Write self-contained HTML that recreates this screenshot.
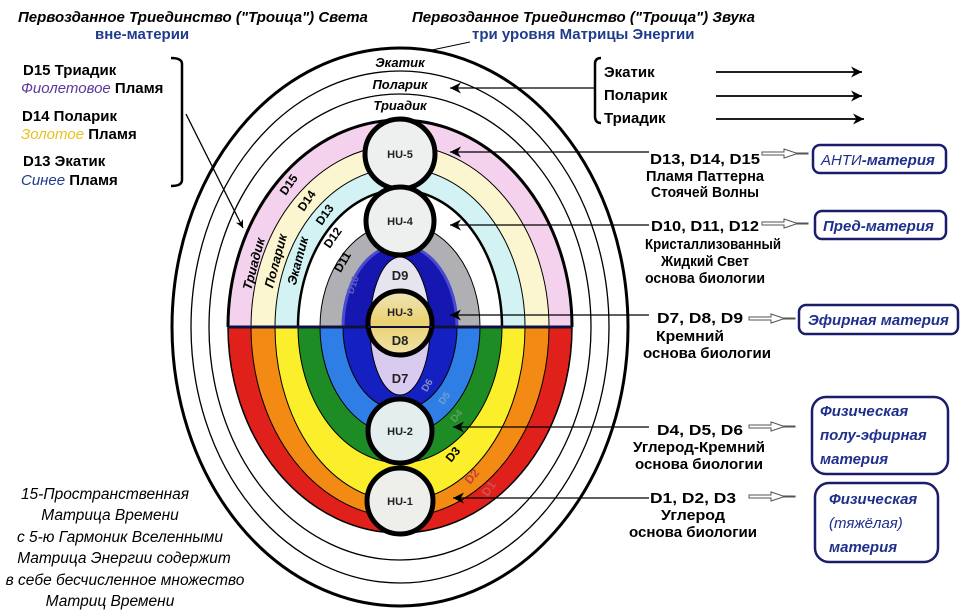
<!DOCTYPE html>
<html><head><meta charset="utf-8"><style>
html,body{margin:0;padding:0;background:#fff}
svg{display:block}
text{font-family:"Liberation Sans","Noto Sans CJK SC",sans-serif}
.b{font-weight:bold}
.i{font-style:italic}
</style></head><body>
<svg width="976" height="611" viewBox="0 0 976 611" xmlns="http://www.w3.org/2000/svg">
<defs>
<clipPath id="top"><rect x="0" y="0" width="976" height="327"/></clipPath>
<clipPath id="bot"><rect x="0" y="327" width="976" height="300"/></clipPath>
<marker id="ah" viewBox="0 0 10 10" refX="10" refY="5" markerWidth="11" markerHeight="8" markerUnits="userSpaceOnUse" orient="auto-start-reverse"><path d="M0,0 L10,5 L0,10 L3,5z" fill="#000"/></marker>
<marker id="ah2" viewBox="0 0 10 10" refX="10" refY="5" markerWidth="20" markerHeight="11" markerUnits="userSpaceOnUse" orient="auto"><path d="M0,0 L10,5 L0,10 L3,5z" fill="#000"/></marker>
<linearGradient id="hu3" x1="0" y1="0" x2="0" y2="1"><stop offset="0" stop-color="#efe6b8"/><stop offset="0.5" stop-color="#e9d170"/><stop offset="1" stop-color="#f1e2a8"/></linearGradient>
</defs>

<ellipse cx="400" cy="327" rx="228" ry="279" fill="#fff" stroke="#000" stroke-width="3"/>
<ellipse cx="400" cy="327" rx="209" ry="256" fill="none" stroke="#000" stroke-width="1.3"/>
<ellipse cx="400" cy="327" rx="191" ry="233" fill="none" stroke="#000" stroke-width="1.3"/>

<g clip-path="url(#top)" stroke="#000" stroke-width="1">
<ellipse cx="400" cy="327" rx="172" ry="207" fill="#f4d2ee" stroke-width="3"/>
<ellipse cx="400" cy="327" rx="149" ry="182" fill="#fbf6cf"/>
<ellipse cx="400" cy="327" rx="125" ry="159" fill="#d2f2f4"/>
<ellipse cx="400" cy="327" rx="102" ry="137" fill="#fff" stroke-width="2.5"/>
<ellipse cx="400" cy="327" rx="80" ry="104" fill="#b0b0b4"/>
<ellipse cx="400" cy="327" rx="57" ry="82" fill="#1616b0" stroke="#4a4ad0" stroke-width="3"/>
<ellipse cx="400" cy="327" rx="30" ry="70" fill="#e6e4ee"/>
</g>
<g clip-path="url(#bot)" stroke="#000" stroke-width="1">
<ellipse cx="400" cy="327" rx="172" ry="206" fill="#e0201a" stroke-width="1.5"/>
<ellipse cx="400" cy="327" rx="149" ry="190" fill="#f28a14"/>
<ellipse cx="400" cy="327" rx="125" ry="174" fill="#fbee2a"/>
<ellipse cx="400" cy="327" rx="102" ry="136" fill="#1d8c24"/>
<ellipse cx="400" cy="327" rx="80" ry="108" fill="#2e7ee6"/>
<ellipse cx="400" cy="327" rx="57" ry="83" fill="#1520c0"/>
<ellipse cx="400" cy="327" rx="30" ry="68" fill="#d9cbf0"/>
</g>
<line x1="228" y1="327" x2="572" y2="327" stroke="#101040" stroke-width="3"/>

<circle cx="400" cy="154" r="35" fill="#eef0ef" stroke="#000" stroke-width="5"/>
<circle cx="400" cy="221" r="34" fill="#eef0ef" stroke="#000" stroke-width="5"/>
<circle cx="400" cy="323" r="32" fill="url(#hu3)" stroke="#000" stroke-width="5"/>
<line x1="368" y1="327" x2="432" y2="327" stroke="#101040" stroke-width="2"/>
<circle cx="400" cy="431" r="32" fill="#e4eeee" stroke="#000" stroke-width="5"/>
<circle cx="400" cy="501" r="33" fill="#eeeeea" stroke="#000" stroke-width="5"/>
<g class="b" font-size="11" text-anchor="middle" fill="#222">
<text x="400" y="158">HU-5</text><text x="400" y="225">HU-4</text>
<text x="400" y="316">HU-3</text><text x="400" y="435">HU-2</text><text x="400" y="505">HU-1</text>
</g>
<g class="b" font-size="13" text-anchor="middle" fill="#222">
<text x="400" y="280">D9</text><text x="400" y="345">D8</text><text x="400" y="383">D7</text>
</g>

<g class="b i" font-size="13" text-anchor="middle">
<text x="400" y="67">Экатик</text><text x="400" y="89">Поларик</text><text x="400" y="110">Триадик</text>
<text transform="translate(258,265) rotate(-75)">Триадик</text>
<text transform="translate(280,262) rotate(-75)">Поларик</text>
<text transform="translate(302,262) rotate(-75)">Экатик</text>
</g>
<g class="b" font-size="12" text-anchor="middle">
<text transform="translate(292,187) rotate(-55)">D15</text>
<text transform="translate(310,203) rotate(-55)">D14</text>
<text transform="translate(328,217) rotate(-55)">D13</text>
<text transform="translate(336,240) rotate(-55)">D12</text>
<text transform="translate(346,264) rotate(-60)">D11</text>
<text transform="translate(456,457) rotate(-50)">D3</text>
<text transform="translate(475,479) rotate(-50)" fill="#c04040">D2</text>
<text transform="translate(492,491) rotate(-55)" fill="#d05050">D1</text>
<text transform="translate(430,387) rotate(-60)" fill="#8090c0" font-size="10">D6</text>
<text transform="translate(447,400) rotate(-55)" fill="#70a0d0" font-size="10">D5</text>
<text transform="translate(459,418) rotate(-50)" fill="#60a060" font-size="10">D4</text>
<text transform="translate(356,286) rotate(-70)" fill="#6060c0" font-size="10">D10</text>
</g>

<g class="b i" font-size="15">
<text x="18" y="22">Первозданное Триединство ("Троица") Света</text>
<text x="412" y="22">Первозданное Триединство ("Троица") Звука</text>
</g>
<g class="b" font-size="15" fill="#1f3b8c">
<text x="95" y="39">вне-материи</text>
<text x="472" y="39">три уровня Матрицы Энергии</text>
</g>
<line x1="470" y1="42" x2="432" y2="50" stroke="#000" stroke-width="1"/>

<g class="b" font-size="15">
<text x="23" y="75">D15 Триадик</text>
<text x="21" y="93"><tspan class="i" font-weight="normal" fill="#5a3a9a">Фиолетовое</tspan> Пламя</text>
<text x="22" y="121">D14 Поларик</text>
<text x="21" y="139"><tspan class="i" font-weight="normal" fill="#e8c020">Золотое</tspan> Пламя</text>
<text x="23" y="166">D13 Экатик</text>
<text x="21" y="185"><tspan class="i" font-weight="normal" fill="#1f3b8c">Синее</tspan> Пламя</text>
</g>
<path d="M171,58 Q182,58 182,64 L182,180 Q182,186 171,186" fill="none" stroke="#000" stroke-width="2.5"/>
<line x1="186" y1="114" x2="243" y2="228" stroke="#000" stroke-width="1.3" marker-end="url(#ah)"/>

<path d="M601,58 Q595,58 595,64 L595,116 Q595,123 601,123" fill="none" stroke="#000" stroke-width="2.5"/>
<g class="b" font-size="15">
<text x="604" y="77">Экатик</text><text x="604" y="100">Поларик</text><text x="604" y="123">Триадик</text>
</g>
<g stroke="#000" stroke-width="1.8">
<line x1="716" y1="72" x2="862" y2="72" marker-end="url(#ah2)"/>
<line x1="716" y1="96" x2="862" y2="96" marker-end="url(#ah2)"/>
<line x1="716" y1="119" x2="864" y2="119" marker-end="url(#ah2)"/>
</g>
<g stroke="#000" stroke-width="1.3" marker-end="url(#ah2)">
<line x1="594" y1="88" x2="450" y2="88"/>
<line x1="649" y1="152" x2="450" y2="152"/>
<line x1="649" y1="225" x2="450" y2="225"/>
<line x1="649" y1="315" x2="450" y2="315"/>
<line x1="649" y1="427" x2="453" y2="427"/>
<line x1="649" y1="498" x2="453" y2="498"/>
</g>

<g class="b" font-size="15" text-anchor="middle" lengthAdjust="spacingAndGlyphs">
<text x="705" y="164" textLength="110" lengthAdjust="spacingAndGlyphs">D13, D14, D15</text>
<text x="705" y="181" textLength="118" lengthAdjust="spacingAndGlyphs">Пламя Паттерна</text>
<text x="705" y="197" textLength="108" lengthAdjust="spacingAndGlyphs">Стоячей Волны</text>
<text x="705" y="231" textLength="108" lengthAdjust="spacingAndGlyphs">D10, D11, D12</text>
<text x="713" y="249" textLength="136" lengthAdjust="spacingAndGlyphs">Кристаллизованный</text>
<text x="705" y="266" textLength="88" lengthAdjust="spacingAndGlyphs">Жидкий Свет</text>
<text x="705" y="283" textLength="120" lengthAdjust="spacingAndGlyphs">основа биологии</text>
<text x="700" y="323" textLength="86" lengthAdjust="spacingAndGlyphs">D7, D8, D9</text>
<text x="690" y="341" textLength="68" lengthAdjust="spacingAndGlyphs">Кремний</text>
<text x="707" y="358" textLength="128" lengthAdjust="spacingAndGlyphs">основа биологии</text>
<text x="700" y="435" textLength="86" lengthAdjust="spacingAndGlyphs">D4, D5, D6</text>
<text x="699" y="452" textLength="132" lengthAdjust="spacingAndGlyphs">Углерод-Кремний</text>
<text x="699" y="469" textLength="128" lengthAdjust="spacingAndGlyphs">основа биологии</text>
<text x="693" y="503" textLength="86" lengthAdjust="spacingAndGlyphs">D1, D2, D3</text>
<text x="693" y="520" textLength="64" lengthAdjust="spacingAndGlyphs">Углерод</text>
<text x="693" y="537" textLength="128" lengthAdjust="spacingAndGlyphs">основа биологии</text>
</g>

<g fill="#fff" stroke="#555" stroke-width="1">
<path d="M762,152 h22 v-3 l12,4 l12,0 v1 h-12 l-12,4 v-3 h-22z"/>
<path d="M762,222 h22 v-3 l12,4 l12,0 v1 h-12 l-12,4 v-3 h-22z"/>
<path d="M749,317 h22 v-3 l12,4 l12,0 v1 h-12 l-12,4 v-3 h-22z"/>
<path d="M749,425 h22 v-3 l12,4 l12,0 v1 h-12 l-12,4 v-3 h-22z"/>
<path d="M749,495 h22 v-3 l12,4 l12,0 v1 h-12 l-12,4 v-3 h-22z"/>
</g>

<g fill="#fff" stroke="#1c1c6c" stroke-width="2.5">
<rect x="813" y="145" width="133" height="28" rx="7"/>
<rect x="815" y="211" width="131" height="28" rx="7"/>
<rect x="799" y="305" width="159" height="29" rx="7"/>
<rect x="812" y="397" width="136" height="77" rx="14"/>
<rect x="815" y="483" width="123" height="79" rx="14"/>
</g>
<g class="b i" font-size="15" fill="#1f2f8c">
<text x="821" y="165"><tspan font-weight="normal">АНТИ</tspan>-материя</text>
<text x="823" y="231">Пред-материя</text>
<text x="808" y="325">Эфирная материя</text>
<text x="820" y="416">Физическая</text>
<text x="820" y="440">полу-эфирная</text>
<text x="820" y="464">материя</text>
<text x="829" y="504">Физическая</text>
<text x="829" y="528" font-weight="normal">(тяжёлая)</text>
<text x="829" y="552">материя</text>
</g>

<g class="i" font-size="15.5" text-anchor="middle">
<text x="105" y="499">15-Пространственная</text>
<text x="110" y="520">Матрица Времени</text>
<text x="120" y="542">с 5-ю Гармоник Вселенными</text>
<text x="124" y="563">Матрица Энергии содержит</text>
<text x="125" y="585">в себе бесчисленное множество</text>
<text x="110" y="606">Матриц Времени</text>
</g>
</svg>
</body></html>
